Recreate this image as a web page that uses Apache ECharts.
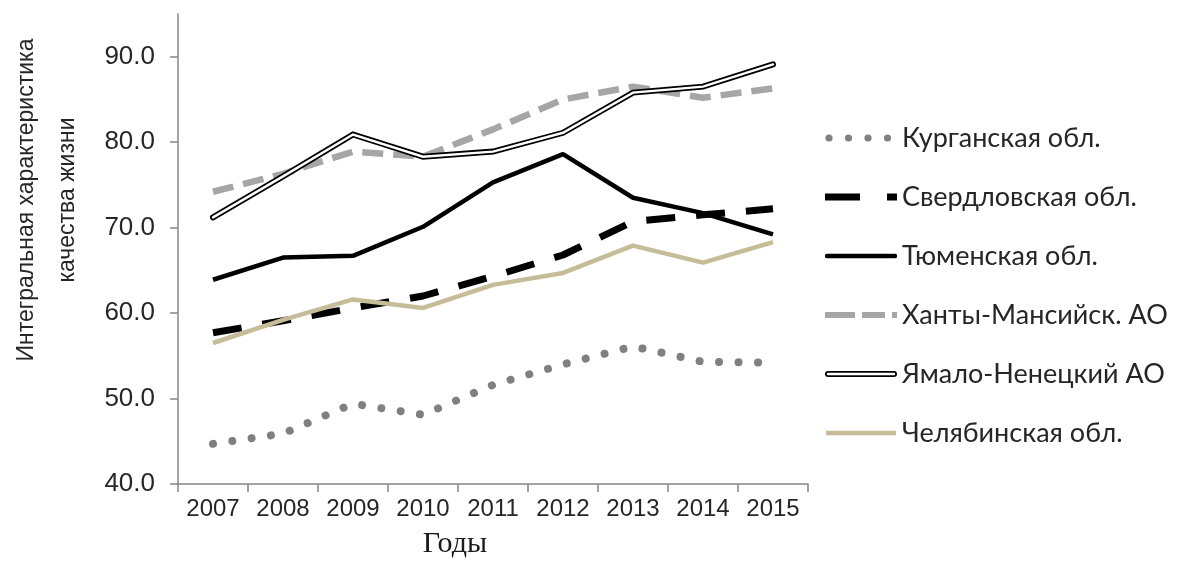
<!DOCTYPE html>
<html>
<head>
<meta charset="utf-8">
<script src="https://cdn.jsdelivr.net/npm/echarts@6/dist/echarts.min.js"></script>
<style>
  html, body { margin: 0; padding: 0; background: #fff; }
  #chart { width: 1177px; height: 561px; }
</style>
</head>
<body>
<div id="chart"></div>
<script>
// годы
var years = ['2007', '2008', '2009', '2010', '2011', '2012', '2013', '2014', '2015'];
var yTicks = [40, 50, 60, 70, 80, 90];

// значения по регионам
var kurgan = [44.7, 45.9, 49.4, 48.1, 51.6, 54.0, 56.1, 54.3, 54.2];
var sverdl = [57.7, 59.1, 60.6, 62.0, 64.3, 66.8, 70.7, 71.5, 72.2];
var tyumen = [63.9, 66.5, 66.7, 70.1, 75.3, 78.6, 73.5, 71.7, 69.2];
var khmao = [74.2, 76.3, 78.9, 78.3, 81.5, 85.0, 86.5, 85.2, 86.3];
var yanao = [71.2, 76.0, 80.9, 78.3, 78.9, 81.1, 85.8, 86.5, 89.1];
var chel = [56.5, 59.2, 61.6, 60.6, 63.3, 64.7, 67.9, 65.9, 68.3];

var names = ['Курганская обл.', 'Свердловская обл.', 'Тюменская обл.',
  'Ханты-Мансийск. АО', 'Ямало-Ненецкий АО', 'Челябинская обл.'];

// иконки легенды (svg)
function svgIcon(body) {
  var s = '<svg xmlns="http://www.w3.org/2000/svg" width="72" height="12">' + body + '</svg>';
  return 'image://data:image/svg+xml;charset=utf-8,' + encodeURIComponent(s);
}
var icons = [
  svgIcon('<circle cx="4" cy="6" r="3.6" fill="#808080"/><circle cx="23.5" cy="6" r="3.6" fill="#808080"/>' +
    '<circle cx="43" cy="6" r="3.6" fill="#808080"/><circle cx="62.5" cy="6" r="3.6" fill="#808080"/>'),
  svgIcon('<rect x="0" y="2.5" width="35" height="7" fill="#000"/><rect x="62" y="2.5" width="10" height="7" fill="#000"/>'),
  svgIcon('<line x1="2" y1="6" x2="70" y2="6" stroke="#000" stroke-width="4.5" stroke-linecap="round"/>'),
  svgIcon('<rect x="0" y="3" width="30" height="6" fill="#a6a6a6"/><rect x="37" y="3" width="23" height="6" fill="#a6a6a6"/>' +
    '<rect x="67" y="3" width="5" height="6" fill="#a6a6a6"/>'),
  svgIcon('<line x1="3" y1="6" x2="69" y2="6" stroke="#000" stroke-width="6" stroke-linecap="round"/>' +
    '<line x1="3" y1="6" x2="69" y2="6" stroke="#fff" stroke-width="2.4" stroke-linecap="round"/>'),
  svgIcon('<line x1="1" y1="6" x2="71" y2="6" stroke="#c4bd97" stroke-width="4.5"/>')
];

var myChart = echarts.init(document.getElementById('chart'));

function lineSeries(name, data, style) {
  return {
    name: name,
    type: 'line',
    data: data,
    symbol: 'none',
    smooth: false,
    silent: true,
    itemStyle: { color: style.color },
    lineStyle: style
  };
}

var option = {
  animation: false,
  backgroundColor: '#fff',
  grid: {
    left: 178,
    right: 369,
    top: 14,
    bottom: 77,
    containLabel: false,
    outerBoundsMode: 'none'
  },
  legend: {
    orient: 'vertical',
    left: 820,
    top: 118,
    itemWidth: 72,
    itemHeight: 12,
    itemGap: 29,
    textStyle: {
      fontFamily: 'Lato',
      fontSize: 27,
      lineHeight: 30,
      color: '#262626'
    },
    data: names.map(function (n, i) { return { name: n, icon: icons[i] }; })
  },
  xAxis: {
    type: 'category',
    data: years,
    boundaryGap: true,
    name: 'Годы',
    nameLocation: 'middle',
    nameGap: 45,
    nameTextStyle: {
      fontFamily: 'Liberation Serif',
      fontSize: 30,
      color: '#1a1a1a',
      padding: [0, 76, 0, 0]
    },
    axisLine: { lineStyle: { color: '#868686', width: 1.5 } },
    axisTick: { show: true, length: 8, lineStyle: { color: '#868686', width: 1.5 } },
    axisLabel: {
      interval: 0,
      margin: 13,
      fontFamily: 'Liberation Sans',
      fontSize: 24,
      color: '#262626'
    },
    splitLine: { show: false }
  },
  yAxis: {
    type: 'value',
    min: 40,
    max: 95,
    interval: 10,
    name: 'Интегральная характеристика\nкачества жизни',
    nameLocation: 'middle',
    nameGap: 90,
    nameTextStyle: {
      fontFamily: 'Liberation Sans',
      fontSize: 23,
      lineHeight: 41,
      color: '#262626',
      padding: [0, 0, 0, 98]
    },
    axisLine: { show: true, lineStyle: { color: '#868686', width: 1.5 } },
    axisTick: { show: true, length: 8, customValues: yTicks, lineStyle: { color: '#868686', width: 1.5 } },
    axisLabel: {
      margin: 23,
      fontFamily: 'Liberation Sans',
      fontSize: 26,
      color: '#262626',
      customValues: yTicks,
      formatter: function (v) { return v.toFixed(1); }
    },
    splitLine: { show: false }
  },
  series: [
    lineSeries(names[0], kurgan, { color: '#808080', width: 8, type: [0.01, 19.5], cap: 'round' }),
    lineSeries(names[1], sverdl, { color: '#000', width: 7, type: [29, 21], cap: 'butt' }),
    lineSeries(names[2], tyumen, { color: '#000', width: 4.5, type: 'solid' }),
    lineSeries(names[3], khmao, { color: '#a6a6a6', width: 6.5, type: [21, 10], cap: 'butt' }),
    lineSeries(names[4], yanao, { color: '#000', width: 6, type: 'solid', cap: 'round', join: 'miter' }),
    lineSeries('yanao-inner', yanao, { color: '#fff', width: 2.4, type: 'solid', cap: 'round', join: 'miter' }),
    lineSeries(names[5], chel, { color: '#c4bd97', width: 4.5, type: 'solid' })
  ]
};

myChart.setOption(option);
</script>
</body>
</html>
